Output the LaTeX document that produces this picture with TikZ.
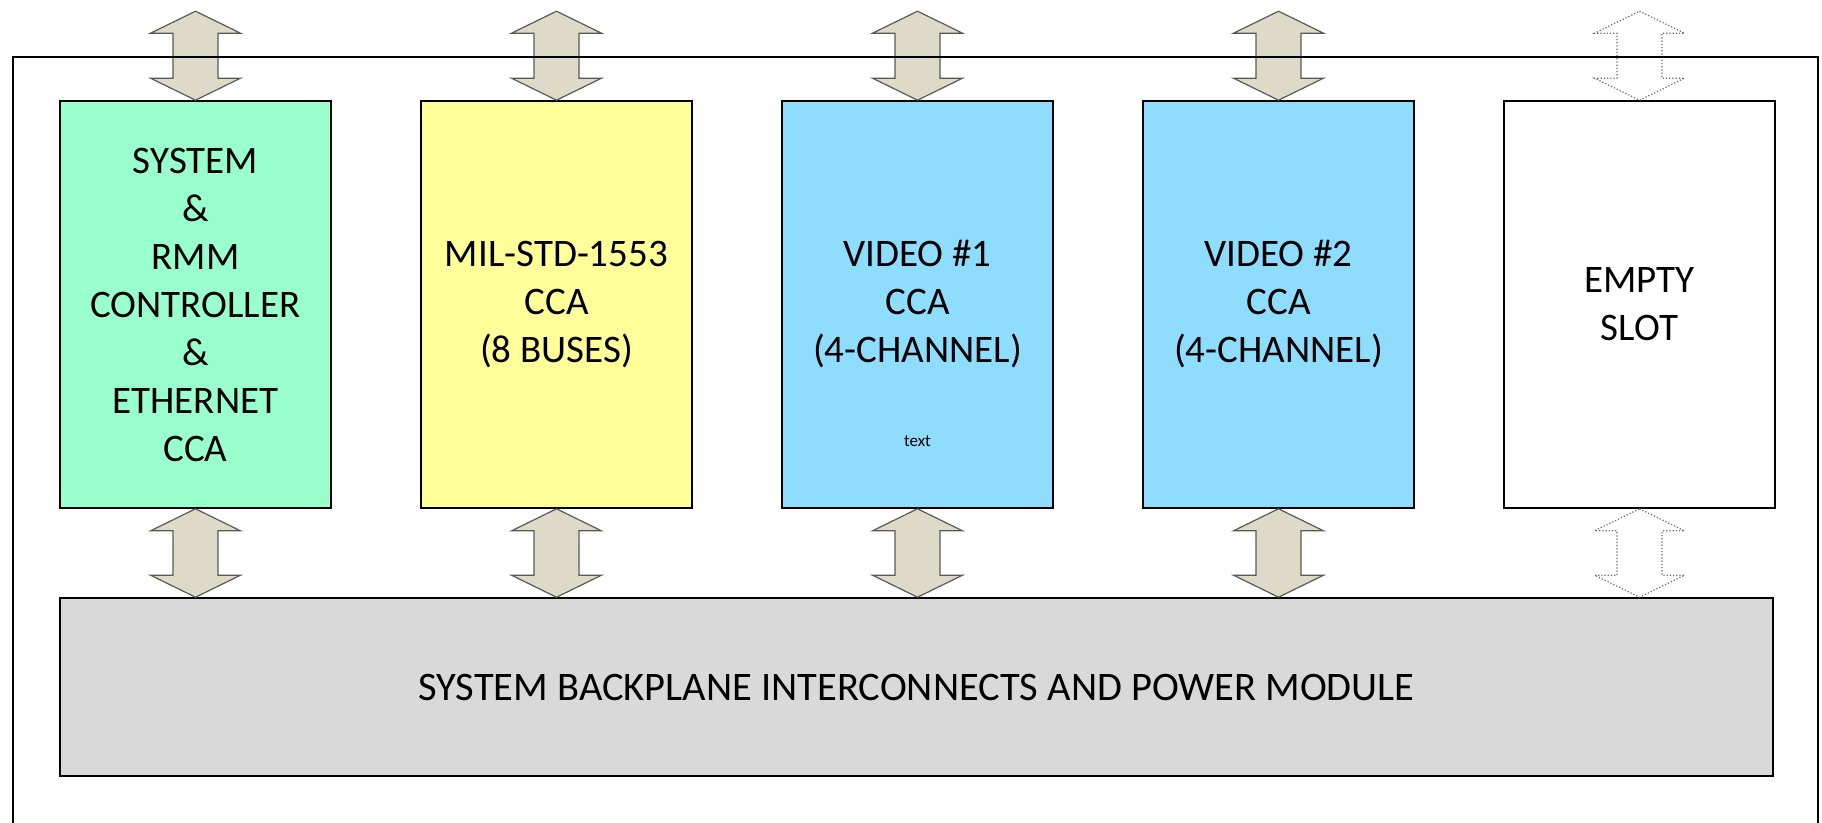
\documentclass[tikz,border=0pt]{standalone}
\usepackage{fontspec}
\setmainfont{Carlito}
\usetikzlibrary{calc}
\definecolor{sysgreen}{RGB}{153,255,204}
\definecolor{milyellow}{RGB}{255,255,153}
\definecolor{videoblue}{RGB}{142,221,255}
\definecolor{planegray}{RGB}{217,217,217}
\definecolor{arrowfill}{RGB}{221,219,200}
\newcommand{\cardfont}{\fontsize{39}{48}\selectfont}
\tikzstyle{card}=[draw, line width=1.6, minimum width=271, minimum height=407, inner sep=0, align=center, font=\cardfont]
\tikzstyle{busarrow}=[draw=black!65, line width=1.2, fill=arrowfill, line join=miter]
\tikzstyle{freearrow}=[draw=black!60, line width=1.2, dotted, fill=white]
\newcommand{\drawbusarrow}[3][busarrow]{% Syntax: [style] {upper tip}{lower tip}
\pgfmathsetmacro{\headw}{45} % half width of the heads
\pgfmathsetmacro{\shaftw}{22.5} % half width of the shaft
\pgfmathsetmacro{\headh}{22}
\draw[#1] (#2) -- ($(#2)+(\headw,\headh)$) -- ($(#2)+(\shaftw,\headh)$) -- ($(#3)+(\shaftw,-\headh)$) -- ($(#3)+(\headw,-\headh)$) -- (#3)
  -- ($(#3)+(-\headw,-\headh)$) -- ($(#3)+(-\shaftw,-\headh)$) -- ($(#2)+(-\shaftw,\headh)$) -- ($(#2)+(-\headw,\headh)$) -- cycle;
}
\begin{document}
\begin{tikzpicture}[x=1pt, y=-1pt]
	\useasboundingbox (0,0) rectangle (1822,822);
	\clip (0,0) rectangle (1822,822);
	% slot cards
	\node[card, fill=sysgreen] (sys) at (195.5,304.5) {SYSTEM\\\&\\RMM\\CONTROLLER\\\&\\ETHERNET\\CCA};
	\node[card, fill=milyellow] (mil) at (556.5,304.5) {MIL-STD-1553\\CCA\\(8 BUSES)};
	\node[card, fill=videoblue] (vidone) at (917.5,304.5) {VIDEO \#1\\CCA\\(4-CHANNEL)};
	\node[font=\fontsize{17}{20}\selectfont] (vidnote) at (917.5,441) {text};
	\node[card, fill=videoblue] (vidtwo) at (1278.5,304.5) {VIDEO \#2\\CCA\\(4-CHANNEL)};
	\node[card, fill=white] (empty) at (1639.5,304.5) {EMPTY\\SLOT};
	% backplane
	\node[draw, line width=1.6, fill=planegray, minimum width=1713, minimum height=178, inner sep=0, font=\fontsize{40.5}{48}\selectfont] (bus) at (916.5,687) {SYSTEM BACKPLANE INTERCONNECTS AND POWER MODULE};
	% arrows to the outside and to the backplane
	\foreach \c in {sys,mil,vidone,vidtwo} {
	\coordinate (\c top) at ($(\c.north)+(0,-89)$);
	\coordinate (\c low) at (\c.south |- bus.north);
	\drawbusarrow{\c top}{\c.north}
	\drawbusarrow{\c.south}{\c low}
	}
	\coordinate (emptytop) at ($(empty.north)+(0,-89)$);
	\coordinate (emptylow) at (empty.south |- bus.north);
	\drawbusarrow[freearrow]{emptytop}{empty.north}
	\drawbusarrow[freearrow]{empty.south}{emptylow}
	% chassis outline
	\draw[line width=1.6] (13,57) rectangle (1818,840);
\end{tikzpicture}
\end{document}
